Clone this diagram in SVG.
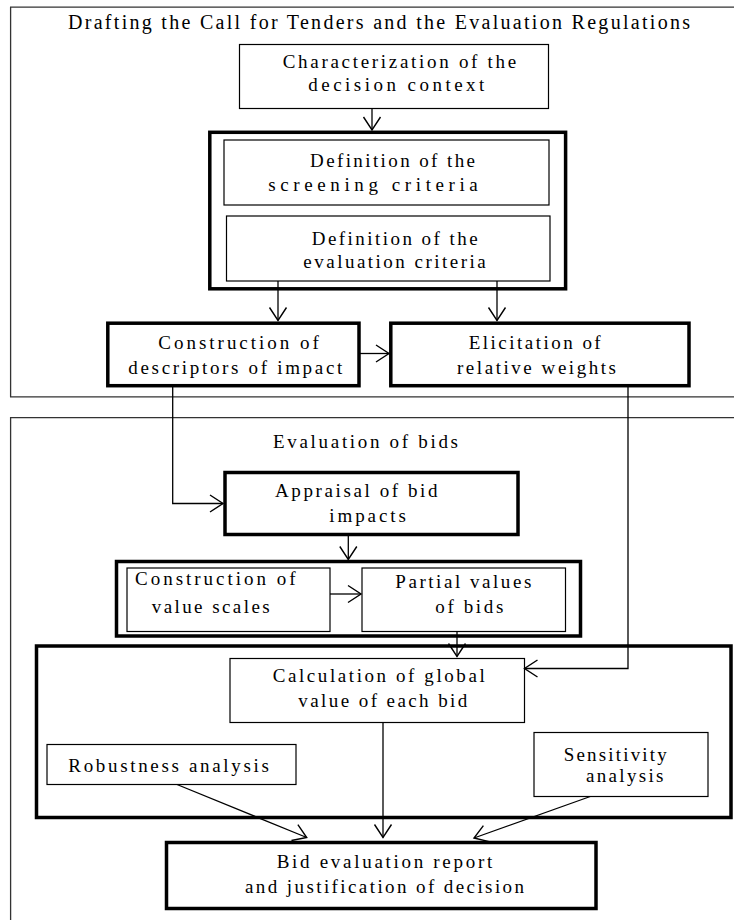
<svg xmlns="http://www.w3.org/2000/svg" width="734" height="920" viewBox="0 0 734 920">
<style>
  text { font-family: "Liberation Serif", "Times New Roman", serif; font-size: 19px; fill: #000; }
  .title { font-size: 20px; }
  .thin { fill: #fff; stroke: #000; stroke-width: 1.2; }
  .thick { fill: none; stroke: #000; stroke-width: 3.5; }
  .panel { fill: none; stroke: #333; stroke-width: 1.3; }
  .conn { fill: none; stroke: #000; stroke-width: 1.3; }
</style>
<defs>
  <marker id="arr" markerUnits="userSpaceOnUse" markerWidth="30" markerHeight="30" refX="15" refY="15" orient="auto" viewBox="0 0 30 30">
    <path d="M2,6.5 L15,15 L2,23.5" fill="none" stroke="#000" stroke-width="1.4"/>
  </marker>
</defs>
<rect width="734" height="920" fill="#fff"/>

<g id="panel-top">
  <path class="panel" d="M734,7.2 L10.6,7.2 L10.6,396.8 L734,396.8"/>
  <text class="title" x="68" y="28.5" textLength="622" lengthAdjust="spacing">Drafting the Call for Tenders and the Evaluation Regulations</text>
</g>
<g id="panel-bottom">
  <path class="panel" d="M734,417.6 L10.6,417.6 L10.6,920"/>
  <text x="273" y="447.5" textLength="185" lengthAdjust="spacing">Evaluation of bids</text>
</g>

<g id="group-criteria">
  <rect class="thick" x="209.8" y="132.3" width="355.8" height="156.5"/>
</g>
<g id="group-values">
  <rect class="thick" x="116.5" y="561.5" width="464" height="74.5"/>
</g>
<g id="group-global">
  <rect class="thick" x="36.5" y="646" width="694.5" height="171.5"/>
</g>

<g id="characterization">
  <rect class="thin" x="239.5" y="44.5" width="309" height="64"/>
  <text x="282.7" y="68" textLength="233.5" lengthAdjust="spacing">Characterization of the</text>
  <text x="308.3" y="91" textLength="176" lengthAdjust="spacing">decision context</text>
</g>
<g id="screening">
  <rect class="thin" x="224" y="140" width="325" height="65"/>
  <text x="310" y="166.7" textLength="165" lengthAdjust="spacing">Definition of the</text>
  <text x="268.3" y="191" textLength="209.5" lengthAdjust="spacing">screening criteria</text>
</g>
<g id="evaluation-criteria">
  <rect class="thin" x="226.5" y="216" width="323.5" height="65"/>
  <text x="311.7" y="245" textLength="166" lengthAdjust="spacing">Definition of the</text>
  <text x="303.3" y="267.7" textLength="182.5" lengthAdjust="spacing">evaluation criteria</text>
</g>
<g id="descriptors">
  <rect class="thick" x="107.8" y="323.2" width="251.2" height="62.5" fill="#fff"/>
  <text x="158.3" y="349" textLength="160.5" lengthAdjust="spacing">Construction of</text>
  <text x="128.3" y="374" textLength="214" lengthAdjust="spacing">descriptors of impact</text>
</g>
<g id="weights">
  <rect class="thick" x="390.8" y="323.2" width="298.2" height="62.5" fill="#fff"/>
  <text x="468.7" y="349" textLength="132" lengthAdjust="spacing">Elicitation of</text>
  <text x="457" y="374" textLength="159" lengthAdjust="spacing">relative weights</text>
</g>
<g id="appraisal">
  <rect class="thick" x="225" y="472.5" width="293" height="62"/>
  <text x="275" y="496.7" textLength="162.5" lengthAdjust="spacing">Appraisal of bid</text>
  <text x="329.3" y="522" textLength="76.5" lengthAdjust="spacing">impacts</text>
</g>
<g id="value-scales">
  <rect class="thin" x="127" y="568" width="203" height="63.5"/>
  <text x="135" y="585" textLength="160.5" lengthAdjust="spacing">Construction of</text>
  <text x="151.7" y="612.7" textLength="118" lengthAdjust="spacing">value scales</text>
</g>
<g id="partial-values">
  <rect class="thin" x="362" y="568" width="203.5" height="63.5"/>
  <text x="395.3" y="588" textLength="136" lengthAdjust="spacing">Partial values</text>
  <text x="435.3" y="613.3" textLength="68" lengthAdjust="spacing">of bids</text>
</g>
<g id="calculation">
  <rect class="thin" x="230" y="658.5" width="294.5" height="64"/>
  <text x="272.7" y="681.5" textLength="212" lengthAdjust="spacing">Calculation of global</text>
  <text x="298.3" y="706.5" textLength="169" lengthAdjust="spacing">value of each bid</text>
</g>
<g id="robustness">
  <rect class="thin" x="47" y="744.5" width="249" height="40"/>
  <text x="68.3" y="772" textLength="200.5" lengthAdjust="spacing">Robustness analysis</text>
</g>
<g id="sensitivity">
  <rect class="thin" x="534" y="732.5" width="174" height="64"/>
  <text x="563.7" y="761" textLength="103" lengthAdjust="spacing">Sensitivity</text>
  <text x="586" y="781.7" textLength="77.5" lengthAdjust="spacing">analysis</text>
</g>
<g id="report">
  <rect class="thick" x="166.5" y="842.5" width="429.5" height="66"/>
  <text x="276.7" y="868.3" textLength="215.5" lengthAdjust="spacing">Bid evaluation report</text>
  <text x="245" y="893.3" textLength="279" lengthAdjust="spacing">and justification of decision</text>
</g>

<g id="connectors">
  <line class="conn" x1="372" y1="108.5" x2="372" y2="130" marker-end="url(#arr)"/>
  <line class="conn" x1="278" y1="281" x2="278" y2="320.5" marker-end="url(#arr)"/>
  <line class="conn" x1="497" y1="281" x2="497" y2="320.5" marker-end="url(#arr)"/>
  <line class="conn" x1="360" y1="353.5" x2="389" y2="353.5" marker-end="url(#arr)"/>
  <path class="conn" d="M172.7,386 L172.7,503.5 L223,503.5" marker-end="url(#arr)"/>
  <path class="conn" d="M628,386 L628,668.5 L524.5,668.5" marker-end="url(#arr)"/>
  <line class="conn" x1="348.3" y1="536" x2="348.3" y2="559.5" marker-end="url(#arr)"/>
  <line class="conn" x1="330" y1="594" x2="361" y2="594" marker-end="url(#arr)"/>
  <line class="conn" x1="457" y1="632" x2="457" y2="656.5" marker-end="url(#arr)"/>
  <line class="conn" x1="177" y1="784.5" x2="306.7" y2="837.5" marker-end="url(#arr)"/>
  <line class="conn" x1="383" y1="722.5" x2="383" y2="837.5" marker-end="url(#arr)"/>
  <line class="conn" x1="590.3" y1="796.5" x2="474" y2="838" marker-end="url(#arr)"/>
</g>
</svg>
